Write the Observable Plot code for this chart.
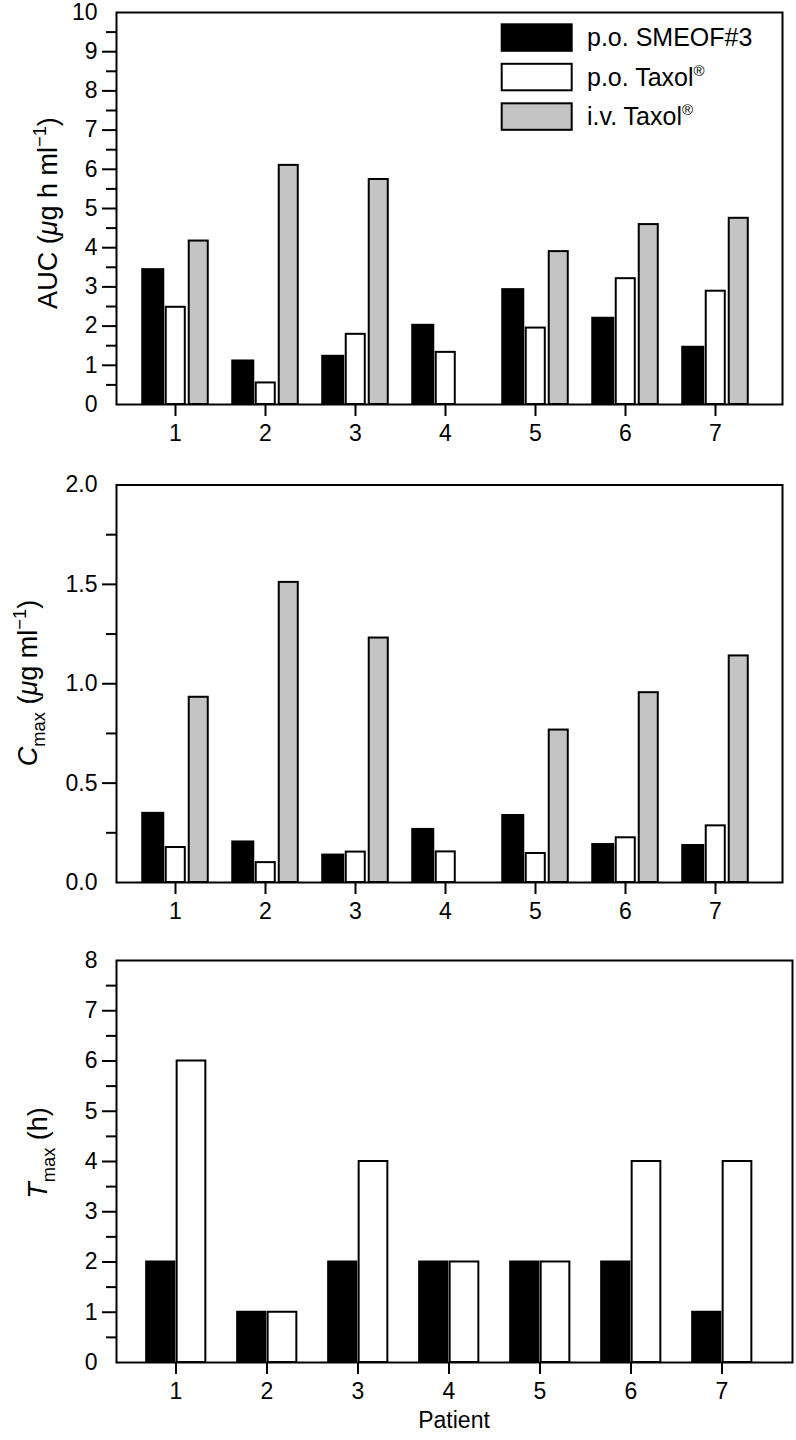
<!DOCTYPE html>
<html><head><meta charset="utf-8">
<script src="https://cdn.jsdelivr.net/npm/d3@7"></script>
<script src="https://cdn.jsdelivr.net/npm/@observablehq/plot@0.6"></script>
<style>
html,body{margin:0;padding:0;background:#fff;overflow:hidden;}
#chart svg{display:block;}
</style></head><body><div id="chart"></div>
<script>
// ---------- data ----------
const patients = [1, 2, 3, 4, 5, 6, 7];
const seriesNames = ["p.o. SMEOF#3", "p.o. Taxol", "i.v. Taxol"];
const seriesMarks = ["", "®", "®"];
const seriesFill = ["#000000", "#ffffff", "#c4c4c4"];

const aucSMEOF    = [3.44, 1.11, 1.23, 2.02, 2.93, 2.20, 1.46];
const aucPoTaxol  = [2.48, 0.55, 1.79, 1.33, 1.95, 3.21, 2.89];
const aucIvTaxol  = [4.17, 6.10, 5.74, null, 3.90, 4.59, 4.75];

const cmaxSMEOF   = [0.348, 0.204, 0.138, 0.267, 0.337, 0.191, 0.186];
const cmaxPoTaxol = [0.176, 0.100, 0.153, 0.154, 0.146, 0.225, 0.285];
const cmaxIvTaxol = [0.932, 1.510, 1.230, null, 0.767, 0.955, 1.140];

const tmaxSMEOF   = [2, 1, 2, 2, 2, 2, 1];
const tmaxPoTaxol = [6, 1, 4, 2, 2, 4, 4];

const aucTicks       = [0, 1, 2, 3, 4, 5, 6, 7, 8, 9, 10];
const aucMajorTicks  = [1, 2, 3, 4, 5, 6, 7, 8, 9];
const aucMinorTicks  = [0.5, 1.5, 2.5, 3.5, 4.5, 5.5, 6.5, 7.5, 8.5, 9.5];
const cmaxTicks      = [0, 0.5, 1.0, 1.5, 2.0];
const cmaxMajorTicks = [0.5, 1.0, 1.5];
const cmaxMinorTicks = [0.25, 0.75, 1.25, 1.75];
const tmaxTicks      = [0, 1, 2, 3, 4, 5, 6, 7, 8];
const tmaxMajorTicks = [1, 2, 3, 4, 5, 6, 7];
const tmaxMinorTicks = [0.5, 1.5, 2.5, 3.5, 4.5, 5.5, 6.5, 7.5];

// ---------- helpers ----------
const FONT = "'Liberation Sans', Arial, Helvetica, sans-serif";
const W = 796;
const rows = arr => patients.map((p, i) => ({patient: p, value: arr[i]})).filter(d => d.value != null);

function bars(arr, fill, step, left, right) {
  // left/right: pixel offsets of bar edges from band centre
  return Plot.barY(rows(arr), {
    x: "patient", y: "value", fill, stroke: "black", strokeWidth: 2,
    insetLeft: step / 2 + left, insetRight: step / 2 - right
  });
}

function yAxes(all, major, minor, fmt) {
  return [
    Plot.axisY(major, {anchor: "left", tickSize: 14, strokeWidth: 2, fill: "none", tickFormat: () => "", label: null}),
    Plot.axisY(minor, {anchor: "left", tickSize: 10, strokeWidth: 2, fill: "none", tickFormat: () => "", label: null}),
    Plot.axisY(all, {anchor: "left", tickSize: 0, tickPadding: 19, fontSize: 23, tickFormat: fmt, label: null})
  ];
}

function xAxis() {
  return Plot.axisX({anchor: "bottom", tickSize: 12, tickPadding: 8, strokeWidth: 2, fontSize: 23, label: null});
}

function addRichText(svg, parts, x, y, size, rotate) {
  const t = d3.select(svg).append("text")
    .attr("transform", `translate(${x},${y})` + (rotate ? " rotate(-90)" : ""))
    .attr("text-anchor", "middle")
    .attr("font-family", FONT)
    .attr("font-size", size)
    .attr("fill", "black");
  let shift = 0;
  for (const p of parts) {
    const target = p.sup ? -size * 0.42 : p.sub ? size * 0.28 : 0;
    const s = t.append("tspan").text(p.t)
      .attr("dy", target - shift)
      .attr("font-size", (p.sup || p.sub) ? size * 0.68 : size);
    if (p.italic) s.attr("font-style", "italic");
    shift = target;
  }
}

// ---------- panel 1 : AUC ----------
const step1 = 90.47, c1 = 173.3;
const plot1 = Plot.plot({
  width: W, height: 470,
  marginLeft: 116, marginRight: 14, marginTop: 12, marginBottom: 66,
  style: {fontFamily: FONT, background: "white", color: "black"},
  x: {type: "band", domain: patients, range: [c1 - step1 / 2, c1 - step1 / 2 + 7 * step1], padding: 0, axis: null},
  y: {domain: [0, 10], axis: null},
  marks: [
    bars(aucSMEOF, seriesFill[0], step1, -33, -11.5),
    bars(aucPoTaxol, seriesFill[1], step1, -9.5, 10),
    bars(aucIvTaxol, seriesFill[2], step1, 13.5, 33),
    ...yAxes(aucTicks, aucMajorTicks, aucMinorTicks, d3.format("d")),
    xAxis(),
    Plot.frame({stroke: "black", strokeWidth: 2})
  ]
});
addRichText(plot1, [{t: "AUC ("}, {t: "μ", italic: true}, {t: "g h ml"}, {t: "−1", sup: true}, {t: ")"}], 57, 213, 27, true);
// legend inside panel 1
{
  const g = d3.select(plot1).append("g").attr("font-family", FONT).attr("text-anchor", "start");
  seriesNames.forEach((name, i) => {
    const y0 = 24.3 + i * 39.5;
    g.append("rect").attr("x", 501.7).attr("y", y0).attr("width", 70).attr("height", 26.5)
      .attr("fill", seriesFill[i]).attr("stroke", "black").attr("stroke-width", 2);
    const t = g.append("text").attr("x", 587).attr("y", y0 + 13.25 + 8.5)
      .attr("font-size", 25).attr("fill", "black").attr("text-anchor", "start");
    t.append("tspan").text(name);
    if (seriesMarks[i]) t.append("tspan").text(seriesMarks[i]).attr("font-size", 15).attr("dy", -10);
  });
}

// ---------- panel 2 : Cmax ----------
const plot2 = Plot.plot({
  width: W, height: 470,
  marginLeft: 116, marginRight: 14, marginTop: 14.5, marginBottom: 58,
  style: {fontFamily: FONT, background: "white", color: "black"},
  x: {type: "band", domain: patients, range: [c1 - step1 / 2, c1 - step1 / 2 + 7 * step1], padding: 0, axis: null},
  y: {domain: [0, 2], axis: null},
  marks: [
    bars(cmaxSMEOF, seriesFill[0], step1, -33, -11.5),
    bars(cmaxPoTaxol, seriesFill[1], step1, -9.5, 10),
    bars(cmaxIvTaxol, seriesFill[2], step1, 13.5, 33),
    ...yAxes(cmaxTicks, cmaxMajorTicks, cmaxMinorTicks, d3.format(".1f")),
    xAxis(),
    Plot.frame({stroke: "black", strokeWidth: 2})
  ]
});
addRichText(plot2, [{t: "C", italic: true}, {t: "max", sub: true}, {t: " ("}, {t: "μ", italic: true}, {t: "g ml"}, {t: "−1", sup: true}, {t: ")"}], 37, 213, 27, true);

// ---------- panel 3 : Tmax ----------
const step3 = 91.3, c3 = 174.2;
const plot3 = Plot.plot({
  width: W, height: 500,
  marginLeft: 116, marginRight: 4, marginTop: 20, marginBottom: 78,
  style: {fontFamily: FONT, background: "white", color: "black"},
  x: {type: "band", domain: patients, range: [c3 - step3 / 2, c3 - step3 / 2 + 7 * step3], padding: 0, axis: null},
  y: {domain: [0, 8], axis: null},
  marks: [
    bars(tmaxSMEOF, seriesFill[0], step3, -29.5, -1),
    bars(tmaxPoTaxol, seriesFill[1], step3, 1, 30),
    ...yAxes(tmaxTicks, tmaxMajorTicks, tmaxMinorTicks, d3.format("d")),
    xAxis(),
    Plot.frame({stroke: "black", strokeWidth: 2})
  ]
});
addRichText(plot3, [{t: "T", italic: true}, {t: "max", sub: true}, {t: " (h)"}], 47, 213, 27, true);
addRichText(plot3, [{t: "Patient"}], 454, 488, 23, false);

const chart = document.getElementById("chart");
chart.append(plot1, plot2, plot3);
</script>
</body></html>
